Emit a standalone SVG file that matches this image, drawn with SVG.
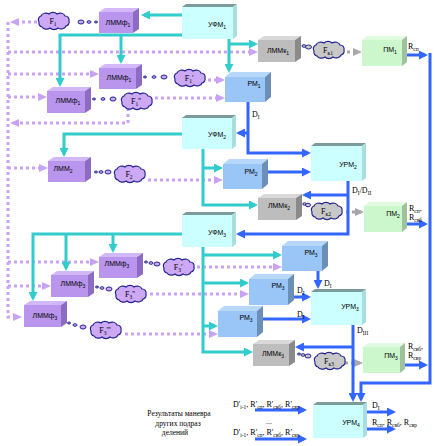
<svg xmlns="http://www.w3.org/2000/svg" xmlns:xlink="http://www.w3.org/1999/xlink" width="435" height="446" viewBox="0 0 435 446">
<style>
.lm rect{fill:#b995ee}.lm .t{fill:#d2b8f7}.lm .s{fill:#8d6bc3}
.gk rect{fill:#bdbdbd}.gk .t{fill:#d9d9d9}.gk .s{fill:#8a8a8a}
.rm rect{fill:#99c5f7}.rm .t{fill:#b8d8fb}.rm .s{fill:#6c8fb8}
.uf rect{fill:#ccffff}.uf .t{fill:#7c9c9c}.uf .s{fill:#a9dede}
.pm rect{fill:#ccf7cc}.pm .t{fill:#e2fae2}.pm .s{fill:#9ec29e}
.lb{font-family:"Liberation Sans",Arial,sans-serif;font-size:7px;fill:#000;text-anchor:middle}
.sb{font-size:5px}
.sr{font-family:"Liberation Serif","Times New Roman",serif;font-size:8px;fill:#000}
.ss{font-size:5.5px}
.cs{font-family:"Liberation Serif","Times New Roman",serif;font-size:8px;fill:#000;text-anchor:middle}
.tx{font-family:"Liberation Serif","Times New Roman",serif;font-size:7.5px;fill:#000;text-anchor:middle}
.teal{fill:none;stroke:#33cccc;stroke-width:3}
.blue{fill:none;stroke:#3366ff;stroke-width:3}
.pur{fill:none;stroke:#c9a2f4;stroke-width:3;stroke-dasharray:3 3}
.gry{fill:none;stroke:#a8a8a8;stroke-width:3;stroke-dasharray:3 3}
.cp{fill:#cca8f5;stroke:#25258f;stroke-width:1.2}
.cg{fill:#c8c8c8;stroke:#25258f;stroke-width:1.2}
.tr{fill:#cca8f5;stroke:#25258f;stroke-width:1}
.trg{fill:#c8c8c8;stroke:#25258f;stroke-width:1}
</style>
<defs>
<marker id="aT" markerUnits="userSpaceOnUse" markerWidth="9" markerHeight="9" refX="6" refY="4.5" orient="auto"><path d="M0,0 L9,4.5 L0,9 z" fill="#33cccc"/></marker>
<marker id="aB" markerUnits="userSpaceOnUse" markerWidth="9" markerHeight="9" refX="6" refY="4.5" orient="auto"><path d="M0,0 L9,4.5 L0,9 z" fill="#3366ff"/></marker>
<marker id="aP" markerUnits="userSpaceOnUse" markerWidth="9" markerHeight="9" refX="6" refY="4.5" orient="auto"><path d="M0,0.5 L9,4.5 L0,8.5 z" fill="#c9a2f4"/></marker>
<marker id="aG" markerUnits="userSpaceOnUse" markerWidth="9" markerHeight="9" refX="6" refY="4.5" orient="auto"><path d="M0,0.5 L9,4.5 L0,8.5 z" fill="#a8a8a8"/></marker>
<path id="cld" d="M4,10 a4,4 0 0 1 2,-6 a5,4 0 0 1 8,-2 a5,4 0 0 1 8,0 a5,4 0 0 1 8,2 a4,4 0 0 1 4,5 a4,4 0 0 1 -3,5 a5,4 0 0 1 -8,2 a5,4 0 0 1 -8,0 a5,4 0 0 1 -8,-1 a4,4 0 0 1 -3,-5 z"/>
</defs>
<rect width="435" height="446" fill="#fff"/>

<g id="connectors">
<!-- purple dotted -->
<path class="pur" d="M37,22 H13" marker-end="url(#aP)"/>
<path class="pur" d="M8,22 V317 H19" marker-end="url(#aP)"/>
<path class="pur" d="M8,52 H255" marker-end="url(#aP)"/>
<path class="pur" d="M8,74 H96" marker-end="url(#aP)"/>
<path class="pur" d="M8,97 H44" marker-end="url(#aP)"/>
<path class="pur" d="M208,80 H222" marker-end="url(#aP)"/>
<path class="pur" d="M155,98 H222" marker-end="url(#aP)"/>
<path class="pur" d="M128,108 V123 H13" marker-end="url(#aP)"/>
<path class="pur" d="M8,168 H45" marker-end="url(#aP)"/>
<path class="pur" d="M148,180 H220" marker-end="url(#aP)"/>
<path class="pur" d="M8,262 H96" marker-end="url(#aP)"/>
<path class="pur" d="M8,286 H48" marker-end="url(#aP)"/>
<path class="pur" d="M197,267 H279" marker-end="url(#aP)"/>
<path class="pur" d="M150,294 H246" marker-end="url(#aP)"/>
<path class="pur" d="M125,334 H215" marker-end="url(#aP)"/>
<!-- grey dotted -->
<path class="gry" d="M347,52 H359" marker-end="url(#aG)"/>
<path class="gry" d="M346,212 H361" marker-end="url(#aG)"/>
<path class="gry" d="M345,363 H360" marker-end="url(#aG)"/>
<!-- teal -->
<path class="teal" d="M182,15 H144" marker-end="url(#aT)"/>
<path class="teal" d="M182,35 H60 V84" marker-end="url(#aT)"/>
<path class="teal" d="M121,35 V61" marker-end="url(#aT)"/>
<path class="teal" d="M229,39 V70" marker-end="url(#aT)"/>
<path class="teal" d="M229,44 H255" marker-end="url(#aT)"/>
<path class="teal" d="M182,134 H64 V154" marker-end="url(#aT)"/>
<path class="teal" d="M203,149 V205 H255" marker-end="url(#aT)"/>
<path class="teal" d="M203,168 H220" marker-end="url(#aT)"/>
<path class="teal" d="M182,234 H33 V298" marker-end="url(#aT)"/>
<path class="teal" d="M66,234 V268" marker-end="url(#aT)"/>
<path class="teal" d="M113,234 V250" marker-end="url(#aT)"/>
<path class="teal" d="M203,247 V352 H250" marker-end="url(#aT)"/>
<path class="teal" d="M203,255 H279" marker-end="url(#aT)"/>
<path class="teal" d="M203,283 H246" marker-end="url(#aT)"/>
<path class="teal" d="M203,326 H215" marker-end="url(#aT)"/>
<!-- blue -->
<path class="blue" d="M407,55 H425" marker-end="url(#aB)"/>
<path class="blue" d="M430,53 V383 H361 V399" marker-end="url(#aB)"/>
<path class="blue" d="M407,224 H425" marker-end="url(#aB)"/>
<path class="blue" d="M405,365 H425" marker-end="url(#aB)"/>
<path class="blue" d="M248,102 V153 H308" marker-end="url(#aB)"/>
<path class="blue" d="M248,133 H239" marker-end="url(#aB)"/>
<path class="blue" d="M268,172 H308" marker-end="url(#aB)"/>
<path class="blue" d="M348,181 V234 H239" marker-end="url(#aB)"/>
<path class="blue" d="M348,195 H305" marker-end="url(#aB)"/>
<path class="blue" d="M318,271 V286" marker-end="url(#aB)"/>
<path class="blue" d="M294,297 H308" marker-end="url(#aB)"/>
<path class="blue" d="M263,319 H308" marker-end="url(#aB)"/>
<path class="blue" d="M353,325 V399" marker-end="url(#aB)"/>
<path class="blue" d="M353,347 H298" marker-end="url(#aB)"/>
<path class="blue" d="M367,412 H393" marker-end="url(#aB)"/>
<path class="blue" d="M367,429 H393" marker-end="url(#aB)"/>
<path class="blue" d="M255,410 H304" marker-end="url(#aB)"/>
<path class="blue" d="M255,439 H304" marker-end="url(#aB)"/>
<!-- bubble trails -->
<ellipse class="tr" cx="81" cy="22" rx="3" ry="2"/><ellipse class="tr" cx="89" cy="22" rx="2" ry="1.3"/><ellipse class="tr" cx="96" cy="22" rx="1.5" ry="1"/>
<ellipse class="tr" cx="145" cy="77" rx="1.5" ry="1"/><ellipse class="tr" cx="154" cy="77" rx="2" ry="1.3"/><ellipse class="tr" cx="164" cy="77" rx="3" ry="2"/>
<ellipse class="tr" cx="94" cy="99" rx="1.5" ry="1"/><ellipse class="tr" cx="103" cy="99" rx="2" ry="1.3"/><ellipse class="tr" cx="113" cy="99" rx="3" ry="2"/>
<ellipse class="tr" cx="96" cy="172" rx="1.5" ry="1"/><ellipse class="tr" cx="101" cy="172" rx="2" ry="1.3"/><ellipse class="tr" cx="108" cy="172" rx="3" ry="2"/>
<ellipse class="tr" cx="146" cy="262" rx="1.5" ry="1"/><ellipse class="tr" cx="151" cy="263" rx="2" ry="1.3"/><ellipse class="tr" cx="157" cy="264" rx="3" ry="2"/>
<ellipse class="tr" cx="97" cy="287" rx="1.5" ry="1"/><ellipse class="tr" cx="102" cy="288" rx="2" ry="1.3"/><ellipse class="tr" cx="109" cy="289" rx="3" ry="2"/>
<ellipse class="tr" cx="69" cy="323" rx="1.5" ry="1"/><ellipse class="tr" cx="75" cy="325" rx="2" ry="1.3"/><ellipse class="tr" cx="83" cy="327" rx="3" ry="2"/>
<ellipse class="trg" cx="304" cy="46" rx="2" ry="1.3"/><ellipse class="trg" cx="308.5" cy="47" rx="3" ry="2"/>
<ellipse class="trg" cx="304.5" cy="204" rx="1.8" ry="1.2"/><ellipse class="trg" cx="308" cy="205" rx="2.5" ry="1.8"/>
<ellipse class="trg" cx="299" cy="354" rx="1.5" ry="1"/><ellipse class="trg" cx="303" cy="355" rx="2" ry="1.3"/><ellipse class="trg" cx="308" cy="356" rx="3" ry="2"/>
<!-- edge labels -->
<text class="sr" x="252" y="117">D<tspan class="ss" dy="1.5">I</tspan></text>
<text class="sr" x="352" y="193">D<tspan class="ss" dy="1.5">I</tspan><tspan dy="-1.5">/D</tspan><tspan class="ss" dy="1.5">II</tspan></text>
<text class="sr" x="324" y="286">D<tspan class="ss" dy="1.5">I</tspan></text>
<text class="sr" x="297" y="293">D<tspan class="ss" dy="1.5">I</tspan></text>
<text class="sr" x="297" y="317">D<tspan class="ss" dy="1.5">I</tspan></text>
<text class="sr" x="357" y="333">D<tspan class="ss" dy="1.5">III</tspan></text>
<text class="sr" x="408" y="49">R<tspan class="ss" dy="1.5">сп</tspan></text>
<text class="sr" x="409" y="211">R<tspan class="ss" dy="1.5">сп</tspan><tspan dy="-1.5">,</tspan></text>
<text class="sr" x="409" y="220">R<tspan class="ss" dy="1.5">свб</tspan></text>
<text class="sr" x="408" y="349">R<tspan class="ss" dy="1.5">свб</tspan><tspan dy="-1.5">,</tspan></text>
<text class="sr" x="408" y="358">R<tspan class="ss" dy="1.5">свр</tspan></text>
<text class="sr" x="372" y="408">D<tspan class="ss" dy="1.5">I</tspan></text>
<text class="sr" x="372" y="425">R<tspan class="ss" dy="1.5">сп</tspan><tspan dy="-1.5">, R</tspan><tspan class="ss" dy="1.5">свб</tspan><tspan dy="-1.5">, R</tspan><tspan class="ss" dy="1.5">свр</tspan></text>
<text class="sr" x="233" y="407">D'<tspan class="ss" dy="1.5">i-1</tspan><tspan dy="-1.5">, R'</tspan><tspan class="ss" dy="1.5">сп</tspan><tspan dy="-1.5">, R'</tspan><tspan class="ss" dy="1.5">свб</tspan><tspan dy="-1.5">, R'</tspan><tspan class="ss" dy="1.5">свр</tspan></text>
<text class="sr" x="266" y="424">...</text>
<text class="sr" x="233" y="435">D'<tspan class="ss" dy="1.5">i-1</tspan><tspan dy="-1.5">, R'</tspan><tspan class="ss" dy="1.5">сп</tspan><tspan dy="-1.5">, R'</tspan><tspan class="ss" dy="1.5">свб</tspan><tspan dy="-1.5">, R'</tspan><tspan class="ss" dy="1.5">свр</tspan></text>
</g>

<!-- purple ЛММф boxes -->
<g id="lmmf1a" class="lm"><rect x="99" y="12" width="34" height="21"/><polygon class="t" points="99,12 105,8 139,8 133,12"/><polygon class="s" points="133,12 139,8 139,29 133,33"/><text class="lb" x="118" y="25">ЛММф<tspan class="sb" dy="1.5">1</tspan></text></g>
<g id="lmmf1b" class="lm"><rect x="99" y="68" width="37" height="21"/><polygon class="t" points="99,68 105,64 142,64 136,68"/><polygon class="s" points="136,68 142,64 142,85 136,89"/><text class="lb" x="119" y="80">ЛММф<tspan class="sb" dy="1.5">1</tspan></text></g>
<g id="lmmf1c" class="lm"><rect x="47" y="91" width="38" height="22"/><polygon class="t" points="47,91 53,87 91,87 85,91"/><polygon class="s" points="85,91 91,87 91,109 85,113"/><text class="lb" x="68" y="103">ЛММф<tspan class="sb" dy="1.5">1</tspan></text></g>
<g id="lmm2" class="lm"><rect x="48" y="161" width="37" height="21"/><polygon class="t" points="48,161 54,157 91,157 85,161"/><polygon class="s" points="85,161 91,157 91,178 85,182"/><text class="lb" x="63" y="171">ЛММ<tspan class="sb" dy="1.5">2</tspan></text></g>
<g id="lmmf3a" class="lm"><rect x="99" y="257" width="38" height="21"/><polygon class="t" points="99,257 105,253 143,253 137,257"/><polygon class="s" points="137,257 143,253 143,274 137,278"/><text class="lb" x="117" y="266">ЛММф<tspan class="sb" dy="1.5">3</tspan></text></g>
<g id="lmmf3b" class="lm"><rect x="51" y="275" width="37" height="22"/><polygon class="t" points="51,275 57,271 94,271 88,275"/><polygon class="s" points="88,275 94,271 94,293 88,297"/><text class="lb" x="73" y="286">ЛММф<tspan class="sb" dy="1.5">3</tspan></text></g>
<g id="lmmf3c" class="lm"><rect x="24" y="305" width="37" height="22"/><polygon class="t" points="24,305 30,301 67,301 61,305"/><polygon class="s" points="61,305 67,301 67,323 61,327"/><text class="lb" x="45" y="318">ЛММф<tspan class="sb" dy="1.5">3</tspan></text></g>

<!-- grey ЛММк boxes -->
<g id="lmmk1" class="gk"><rect x="258" y="40" width="37" height="22"/><polygon class="t" points="258,40 264,36 301,36 295,40"/><polygon class="s" points="295,40 301,36 301,58 295,62"/><text class="lb" x="278" y="53">ЛММк<tspan class="sb" dy="1.5">1</tspan></text></g>
<g id="lmmk2" class="gk"><rect x="258" y="198" width="38" height="22"/><polygon class="t" points="258,198 264,194 302,194 296,198"/><polygon class="s" points="296,198 302,194 302,216 296,220"/><text class="lb" x="279" y="208">ЛММк<tspan class="sb" dy="1.5">2</tspan></text></g>
<g id="lmmk3" class="gk"><rect x="253" y="344" width="36" height="22"/><polygon class="t" points="253,344 259,340 295,340 289,344"/><polygon class="s" points="289,344 295,340 295,362 289,366"/><text class="lb" x="273" y="356">ЛММк<tspan class="sb" dy="1.5">3</tspan></text></g>

<!-- blue РМ boxes -->
<g id="rm1" class="rm"><rect x="225" y="77" width="40" height="25"/><polygon class="t" points="225,77 231,72 271,72 265,77"/><polygon class="s" points="265,77 271,72 271,97 265,102"/><text class="lb" x="254" y="86">РМ<tspan class="sb" dy="1.5">1</tspan></text></g>
<g id="rm2" class="rm"><rect x="223" y="164" width="39" height="25"/><polygon class="t" points="223,164 229,159 268,159 262,164"/><polygon class="s" points="262,164 268,159 268,184 262,189"/><text class="lb" x="251" y="174">РМ<tspan class="sb" dy="1.5">2</tspan></text></g>
<g id="rm3a" class="rm"><rect x="282" y="246" width="40" height="25"/><polygon class="t" points="282,246 288,241 328,241 322,246"/><polygon class="s" points="322,246 328,241 328,266 322,271"/><text class="lb" x="311" y="255">РМ<tspan class="sb" dy="1.5">3</tspan></text></g>
<g id="rm3b" class="rm"><rect x="249" y="279" width="39" height="26"/><polygon class="t" points="249,279 255,274 294,274 288,279"/><polygon class="s" points="288,279 294,274 294,300 288,305"/><text class="lb" x="278" y="288">РМ<tspan class="sb" dy="1.5">3</tspan></text></g>
<g id="rm3c" class="rm"><rect x="218" y="311" width="39" height="26"/><polygon class="t" points="218,311 224,306 263,306 257,311"/><polygon class="s" points="257,311 263,306 263,332 257,337"/><text class="lb" x="246" y="320">РМ<tspan class="sb" dy="1.5">3</tspan></text></g>

<!-- cyan УФМ / УРМ boxes -->
<g id="ufm1" class="uf"><rect x="182" y="7" width="51" height="32"/><polygon class="t" points="182,7 186,4 237,4 233,7"/><polygon class="s" points="233,7 237,4 237,36 233,39"/><text class="lb" x="217" y="27">УФМ<tspan class="sb" dy="1.5">1</tspan></text></g>
<g id="ufm2" class="uf"><rect x="182" y="118" width="50" height="31"/><polygon class="t" points="182,118 186,115 236,115 232,118"/><polygon class="s" points="232,118 236,115 236,146 232,149"/><text class="lb" x="217" y="137">УФМ<tspan class="sb" dy="1.5">2</tspan></text></g>
<g id="ufm3" class="uf"><rect x="182" y="215" width="50" height="32"/><polygon class="t" points="182,215 186,212 236,212 232,215"/><polygon class="s" points="232,215 236,212 236,244 232,247"/><text class="lb" x="217" y="235">УФМ<tspan class="sb" dy="1.5">3</tspan></text></g>
<g id="urm2" class="uf"><rect x="311" y="146" width="51" height="35"/><polygon class="t" points="311,146 315,143 366,143 362,146"/><polygon class="s" points="362,146 366,143 366,178 362,181"/><text class="lb" x="348" y="167">УРМ<tspan class="sb" dy="1.5">2</tspan></text></g>
<g id="urm3" class="uf"><rect x="311" y="292" width="51" height="33"/><polygon class="t" points="311,292 315,289 366,289 362,292"/><polygon class="s" points="362,292 366,289 366,322 362,325"/><text class="lb" x="350" y="309">УРМ<tspan class="sb" dy="1.5">3</tspan></text></g>
<g id="urm4" class="uf"><rect x="313" y="405" width="50" height="33"/><polygon class="t" points="313,405 317,402 367,402 363,405"/><polygon class="s" points="363,405 367,402 367,435 363,438"/><text class="lb" x="351" y="425">УРМ<tspan class="sb" dy="1.5">4</tspan></text></g>

<!-- green ПМ boxes -->
<g id="pm1" class="pm"><rect x="362" y="40" width="40" height="26"/><polygon class="t" points="362,40 367,36 407,36 402,40"/><polygon class="s" points="402,40 407,36 407,62 402,66"/><text class="lb" x="390" y="52">ПМ<tspan class="sb" dy="1.5">1</tspan></text></g>
<g id="pm2" class="pm"><rect x="364" y="206" width="38" height="26"/><polygon class="t" points="364,206 369,202 407,202 402,206"/><polygon class="s" points="402,206 407,202 407,228 402,232"/><text class="lb" x="393" y="216">ПМ<tspan class="sb" dy="1.5">2</tspan></text></g>
<g id="pm3" class="pm"><rect x="363" y="347" width="37" height="26"/><polygon class="t" points="363,347 368,343 405,343 400,347"/><polygon class="s" points="400,347 405,343 405,369 400,373"/><text class="lb" x="391" y="358">ПМ<tspan class="sb" dy="1.5">3</tspan></text></g>

<!-- clouds -->
<g id="cF1"><use xlink:href="#cld" href="#cld" class="cp" transform="translate(35,12)"/><text class="cs" x="53" y="24">F<tspan class="ss" dy="1.5">1</tspan></text></g>
<g id="cF1a"><use xlink:href="#cld" href="#cld" class="cp" transform="translate(171,69)"/><text class="cs" x="189" y="81">F<tspan class="ss" dy="1.5">1</tspan><tspan dy="-1.5">'</tspan></text></g>
<g id="cF1b"><use xlink:href="#cld" href="#cld" class="cp" transform="translate(118,92)"/><text class="cs" x="136" y="104">F<tspan class="ss" dy="1.5">1</tspan><tspan dy="-1.5">''</tspan></text></g>
<g id="cF2"><use xlink:href="#cld" href="#cld" class="cp" transform="translate(111,165)"/><text class="cs" x="129" y="177">F<tspan class="ss" dy="1.5">2</tspan></text></g>
<g id="cF3a"><use xlink:href="#cld" href="#cld" class="cp" transform="translate(160,258)"/><text class="cs" x="178" y="270">F<tspan class="ss" dy="1.5">3</tspan><tspan dy="-1.5">'</tspan></text></g>
<g id="cF3b"><use xlink:href="#cld" href="#cld" class="cp" transform="translate(112,285)"/><text class="cs" x="130" y="297">F<tspan class="ss" dy="1.5">3</tspan><tspan dy="-1.5">''</tspan></text></g>
<g id="cF3c"><use xlink:href="#cld" href="#cld" class="cp" transform="translate(87,321)"/><text class="cs" x="105" y="333">F<tspan class="ss" dy="1.5">3</tspan><tspan dy="-1.5">'''</tspan></text></g>
<g id="cFk1"><use xlink:href="#cld" href="#cld" class="cg" transform="translate(310,41)"/><text class="cs" x="328" y="53">F<tspan class="ss" dy="1.5">к1</tspan></text></g>
<g id="cFk2"><use xlink:href="#cld" href="#cld" class="cg" transform="translate(308,202)"/><text class="cs" x="326" y="214">F<tspan class="ss" dy="1.5">к2</tspan></text></g>
<g id="cFk3"><use xlink:href="#cld" href="#cld" class="cg" transform="translate(311,352)"/><text class="cs" x="329" y="364">F<tspan class="ss" dy="1.5">к3</tspan></text></g>

<!-- note text -->
<g id="note">
<text class="tx" x="179" y="416">Результаты маневра</text>
<text class="tx" x="178" y="426">других подраз</text>
<text class="tx" x="175" y="435">делений</text>
</g>
</svg>
